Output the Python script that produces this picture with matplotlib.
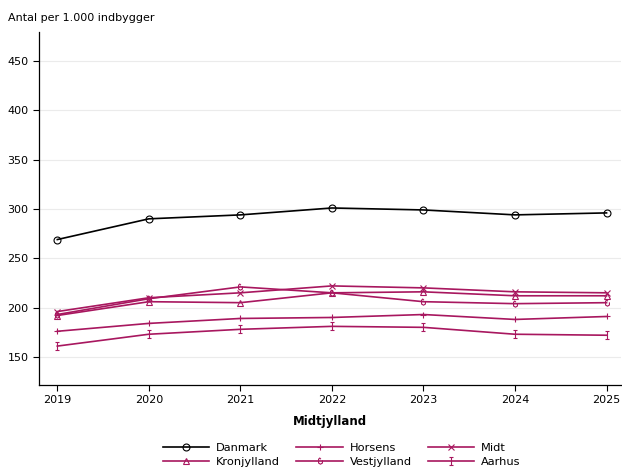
import matplotlib
matplotlib.use("Agg")
import matplotlib.pyplot as plt
from matplotlib.path import Path

years = [2019, 2020, 2021, 2022, 2023, 2024, 2025]

danmark = [269, 290, 294, 301, 299, 294, 296]
kronjylland = [192, 206, 205, 215, 216, 212, 212]
horsens = [176, 184, 189, 190, 193, 188, 191]
vestjylland = [193, 209, 221, 215, 206, 204, 205]
midt = [196, 210, 215, 222, 220, 216, 215]
aarhus = [161, 173, 178, 181, 180, 173, 172]

yticks = [150, 200, 250, 300, 350, 400, 450]

red = '#a8175f'

# u-shaped marker with a small hook, like the original
u_marker = Path([(-0.5, 0.6), (-0.5, -0.4), (0.0, -0.7), (0.5, -0.4), (0.5, 0.3),
                 (-0.5, 0.6), (-0.2, 0.9), (0.1, 0.6)],
                [Path.MOVETO, Path.LINETO, Path.LINETO, Path.LINETO, Path.LINETO,
                 Path.MOVETO, Path.LINETO, Path.LINETO])

i_marker = Path([(-0.5, 0.8), (0.5, 0.8), (0, 0.8), (0, -0.8), (-0.5, -0.8), (0.5, -0.8)],
                [Path.MOVETO, Path.LINETO, Path.MOVETO, Path.LINETO, Path.MOVETO, Path.LINETO])

fig = plt.figure(figsize=(6.22, 4.69), dpi=100)
ax = fig.add_axes([0.0627, 0.179, 0.936, 0.753])

lw = 1.2
mw = 0.8
ax.plot(years, danmark, color='black', lw=lw, marker='o', ms=5, mfc='none', mew=mw, label='Danmark', zorder=5)
ax.plot(years, kronjylland, color=red, lw=lw, marker='^', ms=4.5, mfc='none', mew=mw, label='Kronjylland')
ax.plot(years, horsens, color=red, lw=lw, marker='+', ms=5, mew=mw, label='Horsens')
ax.plot(years, vestjylland, color=red, lw=lw, marker=u_marker, ms=5, mfc='none', mew=mw, label='Vestjylland')
ax.plot(years, midt, color=red, lw=lw, marker='x', ms=5, mew=mw, label='Midt')
ax.plot(years, aarhus, color=red, lw=lw, marker=i_marker, ms=5.5, mfc='none', mew=mw, label='Aarhus')

ax.set_xlim(2018.8, 2025.16)
ax.set_ylim(121.5, 479.5)
ax.set_xticks(years)
ax.set_yticks(yticks)
ax.tick_params(labelsize=8, length=4, width=0.8, color='black')
ax.grid(axis='y', color='#ebebeb', lw=0.8)
ax.set_axisbelow(True)
for s in ['top', 'right']:
    ax.spines[s].set_visible(False)
for s in ['left', 'bottom']:
    ax.spines[s].set_linewidth(0.9)

ax.set_xlabel('Midtjylland', fontsize=8.5, fontweight='bold', labelpad=7)
fig.text(0.013, 0.962, 'Antal per 1.000 indbygger', fontsize=8, va='center')

ax.legend(loc='upper center', bbox_to_anchor=(0.52, -0.152), ncol=3, frameon=False,
          fontsize=8.2, handlelength=4.1, columnspacing=1.4, labelspacing=0.3,
          handletextpad=0.6, borderaxespad=0)

fig.savefig('out.png', dpi=100)
